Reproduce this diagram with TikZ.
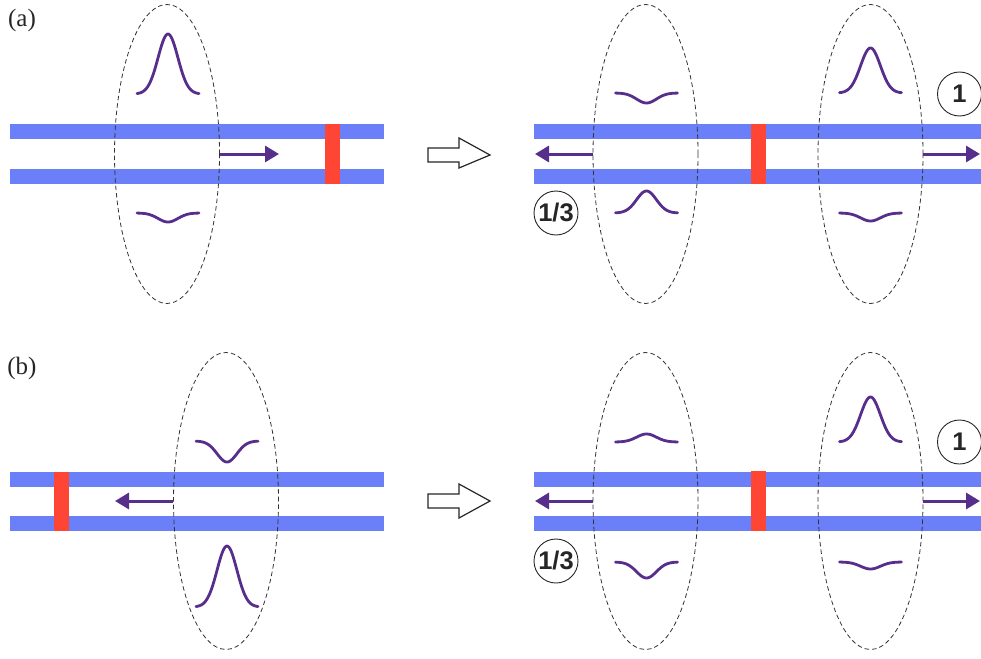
\documentclass[tikz,border=0pt]{standalone}
\usepackage{fontspec}
\setmainfont{Liberation Serif}
\setsansfont{Liberation Sans}
\usetikzlibrary{arrows.meta,shapes.geometric}
\definecolor{railblue}{RGB}{106,127,248}
\definecolor{barred}{RGB}{255,69,52}
\definecolor{wavepurple}{RGB}{88,46,140}
\newcommand\wavepulse[3]{\draw[wave] plot[domain=-31:31,samples=61,smooth] ({#1+\x},{#2-(#3)*exp(-(\x/14)^2)});}
\begin{document}
\begin{tikzpicture}[x=1pt,y=-1pt,
  rail/.style={fill=railblue},
  mirrorbar/.style={fill=barred},
  lens/.style={draw=black!80, dash pattern=on 4.5pt off 3pt, line width=0.8pt, ellipse, minimum width=105pt, minimum height=299pt, inner sep=0pt},
  wave/.style={draw=wavepurple, line width=2.8pt, line cap=round},
  move/.style={draw=wavepurple, line width=3pt, -{Triangle[length=14pt,width=16pt,fill=wavepurple]}},
  weight/.style={circle, draw=black!85, line width=0.9pt, minimum size=44pt, inner sep=0pt, font=\sffamily\bfseries\fontsize{25.5}{25.5}\selectfont, text=black!85},
  panellabel/.style={font=\fontsize{25}{25}\selectfont, text=black!85, inner sep=0pt},
  bigarrow/.style={draw=black!85, line width=1.2pt, fill=white}]
\useasboundingbox (0,0) rectangle (981,658);
% ---------------- (a) ----------------
\node[panellabel] (labA) at (22,20) {(a)};
% left
\fill[rail] (10,124) rectangle (384,139);
\fill[rail] (10,169) rectangle (384,184);
\fill[mirrorbar] (325,124) rectangle (340,184);
\node[lens] (la) at (167,154) {};
\wavepulse{168}{94}{60}
\wavepulse{168}{213}{-9}
\coordinate (laend) at (279,154);
\draw[move] (la.east) -- (laend);
% transition arrow
\draw[bigarrow] (428,148) -- (459,148) -- (459,138) -- (490,155) -- (459,168) -- (459,162) -- (428,162) -- cycle;
% right
\fill[rail] (534,124) rectangle (981,139);
\fill[rail] (534,169) rectangle (981,184);
\fill[mirrorbar] (751,124) rectangle (766,184);
\node[lens] (ra1) at (645.5,154) {};
\node[lens] (ra2) at (870.5,154) {};
\wavepulse{646.5}{93}{-10}
\wavepulse{646.5}{213}{22}
\wavepulse{870.5}{93}{45}
\wavepulse{870.5}{213}{-8}
\coordinate (ra1end) at (535,154);
\coordinate (ra2end) at (980,154);
\draw[move] (ra1.west) -- (ra1end);
\draw[move] (ra2.east) -- (ra2end);
\node[weight] (wa1) at (959.5,94) {1};
\node[weight] (wa3) at (556,213) {1/3};
% ---------------- (b) ----------------
\node[panellabel] (labB) at (22,368) {(b)};
% left
\fill[rail] (10,472) rectangle (384,487);
\fill[rail] (10,516) rectangle (384,531);
\fill[mirrorbar] (54,472) rectangle (69,531);
\node[lens, minimum height=297pt] (lb) at (226,501) {};
\wavepulse{227}{441}{-21}
\wavepulse{227}{607}{61}
\coordinate (lbend) at (115,501);
\draw[move] (lb.west) -- (lbend);
% transition arrow
\draw[bigarrow] (428,494) -- (459,494) -- (459,484) -- (490,501) -- (459,518) -- (459,508) -- (428,508) -- cycle;
% right
\fill[rail] (534,472) rectangle (981,487);
\fill[rail] (534,516) rectangle (981,531);
\fill[mirrorbar] (751,471) rectangle (766,531);
\node[lens, minimum height=297pt] (rb1) at (645.5,501) {};
\node[lens, minimum height=297pt] (rb2) at (870.5,501) {};
\wavepulse{646.5}{442}{8}
\wavepulse{646.5}{562}{-16}
\wavepulse{870.5}{442}{45}
\wavepulse{870.5}{562}{-7}
\coordinate (rb1end) at (535,501);
\coordinate (rb2end) at (980,501);
\draw[move] (rb1.west) -- (rb1end);
\draw[move] (rb2.east) -- (rb2end);
\node[weight] (wb1) at (959.5,442) {1};
\node[weight] (wb3) at (556,561) {1/3};
\end{tikzpicture}
\end{document}
